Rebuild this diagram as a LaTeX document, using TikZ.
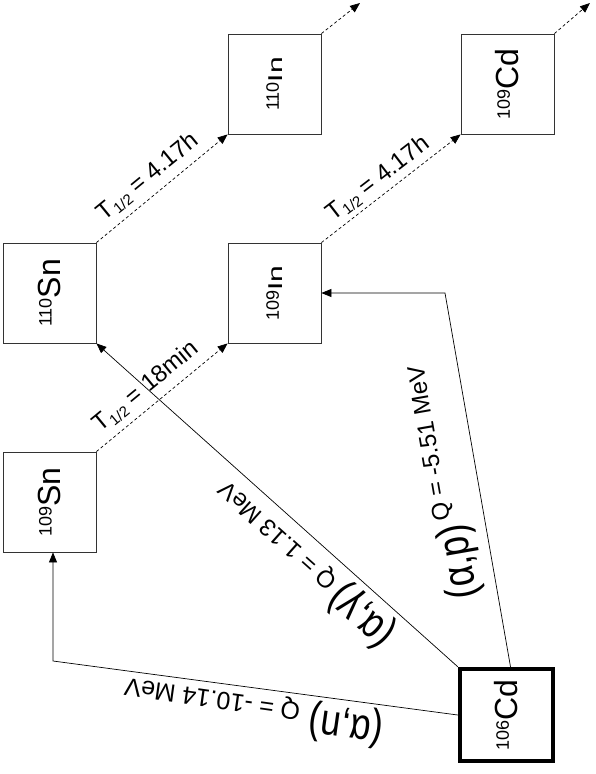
\documentclass[tikz,border=0pt]{standalone}
\usepackage{fontspec}
\setmainfont{Liberation Sans}
\usepackage{graphicx}
\usetikzlibrary{shapes.geometric, arrows.meta}

\newcommand{\heavy}[2]{\raisebox{9pt}{\fontsize{18}{18}\selectfont #1}{\fontsize{32}{32}\selectfont #2}}
\newcommand{\light}[2]{\raisebox{4pt}{\fontsize{18}{18}\selectfont #1}{\fontsize{20}{20}\selectfont\scalebox{1.5}[1]{#2}}}
\newcommand{\reac}[1]{{\fontsize{44}{44}\selectfont\scalebox{0.82}[1]{(α,#1)}}}
\newcommand{\qval}[2][24]{{\fontsize{#1}{#1}\selectfont Q = #2 MeV}}
\newcommand{\thalf}[1]{T\raisebox{-4pt}{\fontsize{15}{15}\selectfont 1/2} = #1}

\begin{document}
\begin{tikzpicture}[x=1pt, y=-1pt, node distance=209pt]
	\tikzstyle{nuclide} = [rectangle, minimum width=93pt, minimum height=100pt, 
	inner sep=0pt, draw=black!80, line width=0.8pt]
	\tikzstyle{target} = [rectangle, minimum width=93pt, minimum height=92pt, 
	inner sep=0pt, draw=black, line width=4.5pt]
	\tikzstyle{decay} = [dash pattern=on 3pt off 2.5pt, line width=0.7pt, 
	-{Triangle[length=10pt,width=8pt]}]
	\tikzstyle{reaction} = [line width=0.7pt, -{Triangle[length=10pt,width=8pt]}]
	\tikzstyle{halflife} = [font=\fontsize{24}{24}\selectfont, inner sep=0pt]
	\tikzstyle{qlabel} = [inner sep=0pt, anchor=base west]
	\useasboundingbox (0,0) rectangle (596,774);
	\node (Sn110) [nuclide] at (49.5,293) {\rotatebox{90}{\heavy{110}{Sn}}};
	\node (Sn109) [nuclide, below of=Sn110] {\rotatebox{90}{\heavy{109}{Sn}}};
	\node (In109) [nuclide, right of=Sn110, xshift=16pt] {\rotatebox{90}{\light{109}{In}}};
	\node (In110) [nuclide, above of=In109] {\rotatebox{90}{\light{110}{In}}};
	\node (Cd109) [nuclide, right of=In110, xshift=24pt] {\rotatebox{90}{\heavy{109}{Cd}}};
	\node (Cd106) [target] at (506.5,715) {\rotatebox{90}{\heavy{106}{Cd}}};
	\coordinate (out110) at (360,3);
	\coordinate (out109) at (590,3);
	\coordinate (nBend) at (53,661);
	\coordinate (pBend) at (445,293);
	\draw [decay] (Sn110.north east) -- (In110.south west);
	\draw [decay] (In110.north east) -- (out110);
	\draw [decay] (Sn109.north east) -- (In109.south west);
	\draw [decay] (In109.north east) -- (Cd109.south west);
	\draw [decay] (Cd109.north east) -- (out109);
	\draw [reaction] (Cd106.west) -- (nBend) -- (nBend |- Sn109.south);
	\draw [reaction] (Cd106.north west) -- (Sn110.south east);
	\draw [reaction] ([xshift=4pt]Cd106.north) -- (pBend) -- (In109.east);
	\node (tSn110) [halflife, rotate=39.3] at (148,177) {\thalf{4.17h}};
	\node (tSn109) [halflife, rotate=39.5] at (146,387) {\thalf{18min}};
	\node (tIn109) [halflife, rotate=37.6] at (378,179) {\thalf{4.17h}};
	\node (qN) [qlabel, rotate=172] at (385,719) {\reac{n}\hspace{10pt}\raisebox{-4pt}{\qval[25]{-10.14}}};
	\node (qG) [qlabel, rotate=138.2] at (397,632) {\reac{γ}\hspace{6pt}\qval{1.13}};
	\node (qP) [qlabel, rotate=99.9] at (478,597) {\reac{p}\hspace{6pt}\raisebox{14pt}{\qval{-5.51}}};
\end{tikzpicture}
\end{document}
